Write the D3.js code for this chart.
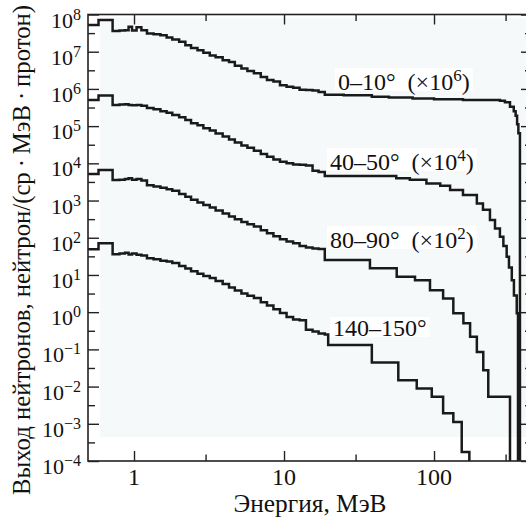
<!DOCTYPE html>
<html>
<head>
<meta charset="utf-8">
<script src="https://cdn.jsdelivr.net/npm/d3@7"></script>
<style>
  body { margin: 0; background: #fff; }
  svg text, svg tspan { font-family: "Liberation Serif" !important; }
</style>
</head>
<body>
<svg id="chart" width="526" height="518" font-family="Liberation Serif"></svg>
<script>
// Energy bin edges (MeV) shared by all four spectra below ~19 MeV
var edgesLow = [0.49, 0.58, 0.72, 0.80, 0.87, 0.92, 0.97, 1.04, 1.12, 1.22, 1.35, 1.5, 1.65, 1.8,
  2.0, 2.2, 2.4, 2.65, 2.9, 3.2, 3.5, 3.9, 4.3, 4.7, 5.2, 5.7, 6.3, 7.0, 7.7, 8.5, 9.4,
  10.4, 11.5, 12.7, 14.0, 15.5, 17.0, 18.7];

// 0-10 deg (x10^6)
var yield0_10Low = [5.25e7, 7.08e7, 3.63e7, 3.72e7, 3.80e7, 4.68e7, 3.72e7, 4.57e7, 3.80e7, 3.09e7,
  2.95e7, 2.75e7, 2.40e7, 2.14e7, 1.86e7, 1.48e7, 1.26e7, 1.10e7, 9.33e6, 7.94e6, 7.08e6, 5.89e6,
  5.25e6, 4.17e6, 3.55e6, 3.02e6, 2.63e6, 2.09e6, 1.74e6, 1.58e6, 1.26e6, 1.15e6, 1.07e6, 9.55e5,
  9.33e5, 9.12e5, 8.32e5, 6.92e5];
var edges0_10High = [25, 38.5, 50, 72, 100, 156, 275, 297, 321, 340, 350, 358, 365];
var yield0_10High = [6.76e5, 6.17e5, 5.89e5, 5.50e5, 5.25e5, 5.01e5, 4.79e5, 4.37e5, 3.31e5,
  2.51e5, 1.91e5, 1.12e5, 6.46e4];
var end0_10 = 374;

// 40-50 deg (x10^4)
var yield40_50Low = [5.01e5, 6.61e5, 3.72e5, 3.80e5, 3.89e5, 3.72e5, 3.63e5, 3.72e5, 3.55e5, 3.09e5,
  2.82e5, 2.51e5, 2.29e5, 2.00e5, 1.74e5, 1.45e5, 1.20e5, 1.05e5, 8.71e4, 7.59e4, 6.31e4, 5.25e4,
  4.37e4, 3.63e4, 3.02e4, 2.63e4, 2.19e4, 1.78e4, 1.51e4, 1.26e4, 1.10e4, 1.00e4, 9.33e3, 9.12e3,
  8.71e3, 6.31e3, 5.89e3, 4.57e3];
var edges40_50High = [56, 69, 89, 110, 128, 156, 193, 212, 236, 255, 275, 290, 305, 316, 330, 341, 356];
var yield40_50High = [3.98e3, 3.63e3, 2.88e3, 2.51e3, 1.91e3, 1.41e3, 832, 562, 302, 178, 107,
  60.3, 30.9, 15.8, 7.24, 2.82, 0.933];
var end40_50 = 363;

// 80-90 deg (x10^2)
var yield80_90Low = [5.13e3, 6.61e3, 3.55e3, 3.63e3, 3.80e3, 3.98e3, 3.63e3, 3.80e3, 3.47e3, 2.57e3,
  2.40e3, 2.19e3, 2.00e3, 1.82e3, 1.51e3, 1.26e3, 1.05e3, 891, 759, 646, 537, 447, 372, 316, 263,
  229, 200, 158, 132, 110, 91.2, 79.4, 70.8, 60.3, 55.0, 51.3, 50.1, 25.1];
var edges80_90High = [37.4, 56.4, 74.7, 94, 115, 134.5, 157, 174, 193, 213, 230];
var yield80_90High = [15.1, 8.91, 7.24, 3.89, 2.34, 0.933, 0.501, 0.219, 0.0851, 0.0275, 0.00537];
var end80_90 = 321;

// 140-150 deg
var yield140_150Low = [49.0, 70.8, 36.3, 38.0, 39.8, 35.5, 38.0, 34.7, 33.1, 28.2, 26.3, 24.0, 22.9,
  20.9, 17.4, 14.8, 12.6, 10.7, 9.33, 8.32, 6.92, 5.75, 4.57, 3.80, 3.16, 2.75, 2.40, 1.86, 1.51,
  1.20, 0.955, 0.741, 0.631, 0.603, 0.339, 0.302, 0.269, 0.251];
var edges140_150High = [19.7, 38.5, 57.8, 76.7, 96.6, 115, 134.5, 153];
var yield140_150High = [0.132, 0.0447, 0.0148, 0.00891, 0.00537, 0.00191, 0.00112, 1.74e-4];
var end140_150 = 172;

var seriesNames = ["0–10°", "40–50°", "80–90°", "140–150°"];
var seriesScaleExp = [6, 4, 2, null];

var xTickMajor = [1, 10, 100];
var xTickMinor = [3, 30, 300];
var yExpMin = -4, yExpMax = 8;

// ---------------------------------------------------------------
var FONT = "'Liberation Serif'";
var svg = d3.select("#chart");
var plot = { left: 88, right: 532, top: 14.5, bottom: 461 };

var x = d3.scaleLog().domain([0.4935, 450]).range([plot.left, plot.right]);
var y = d3.scaleLog().domain([1e-4, 1e8]).range([plot.bottom, plot.top]);

function buildSeries(eLow, vLow, eHigh, vHigh, end) {
  var pts = [];
  eLow.forEach(function(e, i) { pts.push([e, vLow[i]]); });
  eHigh.forEach(function(e, i) { pts.push([e, vHigh[i]]); });
  pts.push([end, 1e-4]);
  return pts;
}

var series = [
  buildSeries(edgesLow, yield0_10Low, edges0_10High, yield0_10High, end0_10),
  buildSeries(edgesLow, yield40_50Low, edges40_50High, yield40_50High, end40_50),
  buildSeries(edgesLow, yield80_90Low, edges80_90High, yield80_90High, end80_90),
  buildSeries(edgesLow, yield140_150Low, edges140_150High, yield140_150High, end140_150)
];

// layers
var bgLayer = svg.append("g");
var boxLayer = svg.append("g");
var curveLayer = svg.append("g");
var axisLayer = svg.append("g");
var textLayer = svg.append("g").style("font-family", FONT);

function addText() {
  return textLayer.append("text").style("font-family", FONT).attr("fill", "#111");
}

// faint scan tint inside the plot
bgLayer.append("rect")
  .attr("x", 100).attr("y", 18)
  .attr("width", 426).attr("height", 419)
  .attr("fill", "#f6f9f9");

svg.append("clipPath").attr("id", "plotClip")
  .append("rect")
  .attr("x", plot.left).attr("y", plot.top)
  .attr("width", plot.right - plot.left).attr("height", plot.bottom - plot.top);

var line = d3.line()
  .x(function(d) { return x(d[0]); })
  .y(function(d) { return y(d[1]); })
  .curve(d3.curveStepAfter);

curveLayer.attr("clip-path", "url(#plotClip)")
  .selectAll("path.spectrum")
  .data(series)
  .enter().append("path")
  .attr("class", "spectrum")
  .attr("d", line)
  .attr("fill", "none")
  .attr("stroke", "#1a1a1a")
  .attr("stroke-width", 2.5);

// ---------------- axes (ticks only, inward) ----------------
var yMajor = d3.range(yExpMin, yExpMax + 1).map(function(p) { return Math.pow(10, p); });
var yMinor = d3.range(yExpMin, yExpMax).map(function(p) { return Math.pow(10, p + 0.5); });

function tickAxis(axisFn, scale, values, size, tx, ty) {
  var g = axisLayer.append("g")
    .attr("transform", "translate(" + tx + "," + ty + ")")
    .call(axisFn(scale).tickValues(values).tickSizeInner(-size).tickSizeOuter(0).tickFormat(""));
  // ticks only: drop the axis line, the empty labels and the axis' own font settings
  g.select(".domain").remove();
  g.selectAll("text").remove();
  g.attr("font-family", null).attr("font-size", null);
  g.selectAll("line").attr("stroke", "#222").attr("stroke-width", 1.4);
}

tickAxis(d3.axisLeft, y, yMajor, 11, plot.left, 0);
tickAxis(d3.axisLeft, y, yMinor, 7, plot.left, 0);
tickAxis(d3.axisRight, y, yMajor, 11, plot.right, 0);
tickAxis(d3.axisRight, y, yMinor, 7, plot.right, 0);
tickAxis(d3.axisBottom, x, xTickMajor, 10, 0, plot.bottom);
tickAxis(d3.axisBottom, x, xTickMinor, 6.5, 0, plot.bottom);
tickAxis(d3.axisTop, x, xTickMajor, 10, 0, plot.top);
tickAxis(d3.axisTop, x, xTickMinor, 6.5, 0, plot.top);

axisLayer.append("rect")
  .attr("x", plot.left).attr("y", plot.top)
  .attr("width", plot.right - plot.left).attr("height", plot.bottom - plot.top)
  .attr("fill", "none").attr("stroke", "#222").attr("stroke-width", 1.6);

// y tick labels 10^n
yMajor.forEach(function(v, i) {
  var p = yExpMin + i;
  var t = addText()
    .attr("x", 81).attr("y", y(v) + 13)
    .attr("text-anchor", "end");
  t.append("tspan").attr("font-size", 22).text("10");
  t.append("tspan").attr("font-size", 16).attr("dy", -8)
    .text(p < 0 ? "\u2212" + (-p) : String(p));
});

// x tick labels
xTickMajor.forEach(function(v) {
  addText()
    .attr("x", x(v)).attr("y", 485)
    .attr("text-anchor", "middle")
    .attr("font-size", 24)
    .text(String(v));
});

// axis titles
var xTitle = addText()
  .attr("x", 310).attr("y", 512)
  .attr("text-anchor", "middle")
  .attr("font-size", 24)
  .text("Энергия, МэВ");
xTitle.attr("font-size", 24 * 153 / xTitle.node().getComputedTextLength());

var yTitle = addText()
  .attr("transform", "translate(30,250) rotate(-90)")
  .attr("text-anchor", "middle")
  .attr("font-size", 24)
  .text("Выход нейтронов, нейтрон/(ср\u2009·\u2009МэВ\u2009·\u2009протон)");
yTitle.attr("font-size", 24 * 490 / yTitle.node().getComputedTextLength());

// curve labels
var labelPos = [[338, 90], [330, 170], [330, 248], [333, 336]];
seriesNames.forEach(function(name, i) {
  var t = addText()
    .attr("x", labelPos[i][0]).attr("y", labelPos[i][1])
    .attr("font-size", 24);
  if (seriesScaleExp[i] !== null) {
    t.append("tspan").text(name + "\u2002(×10");
    t.append("tspan").attr("font-size", 17).attr("dy", -9).text(String(seriesScaleExp[i]));
    t.append("tspan").attr("dy", 9).text(")");
  } else {
    t.text(name);
  }
  var bb = t.node().getBBox();
  boxLayer.append("rect")
    .attr("x", bb.x - 3).attr("y", bb.y + 2)
    .attr("width", bb.width + 6).attr("height", bb.height - 6)
    .attr("fill", "#fff");
});
</script>
</body>
</html>
